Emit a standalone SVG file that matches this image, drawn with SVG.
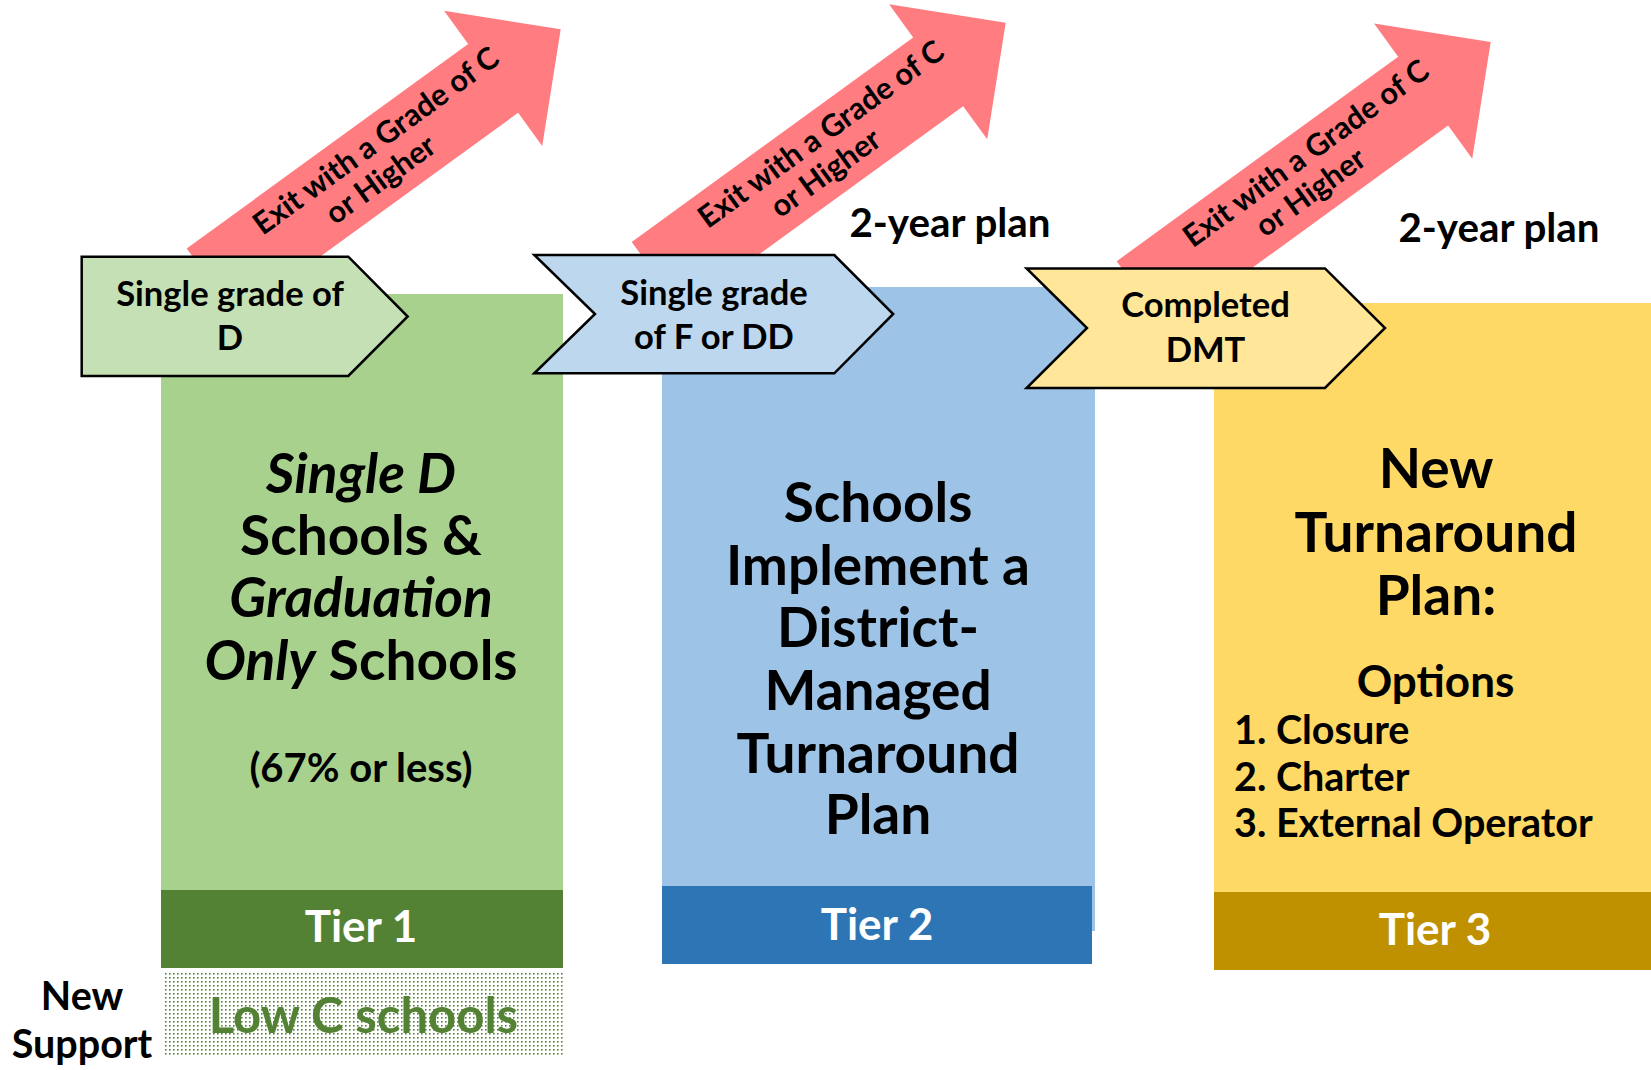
<svg xmlns="http://www.w3.org/2000/svg" width="1651" height="1070" viewBox="0 0 1651 1070">
  <style>
    text { font-family: Lato, "Liberation Sans", sans-serif; font-weight: bold; fill: #000; }
    .c { text-anchor: middle; }
    .chev { stroke: #000; stroke-width: 2.5; stroke-linejoin: miter; }
    .exit { font-size: 30.5px; text-anchor: middle; }
    .big { font-size: 55px; text-anchor: middle; }
    .chevt { font-size: 34.6px; text-anchor: middle; }
    .tier { font-size: 44px; text-anchor: middle; fill: #fff; }
    .plan { font-size: 40.3px; text-anchor: middle; }
    .it { font-style: italic; }
  </style>
  <defs>
    <polygon id="exitArrow" points="0,0 -83.5,-83.5 -83.5,-42.5 -431.4,-42.5 -431.4,42.5 -83.5,42.5 -83.5,83.5" fill="#FF7C80"/>
    <pattern id="dots" width="4" height="4" patternUnits="userSpaceOnUse">
      <rect width="4" height="4" fill="#fff"/>
      <rect x="1" y="1" width="1.6" height="1.6" fill="#548235"/>
    </pattern>
  </defs>

  <!-- Tier boxes -->
  <g id="tier1">
    <rect x="161" y="294" width="402" height="596" fill="#A9D18E"/>
    <rect x="161" y="890" width="402" height="78" fill="#548235"/>
    <text class="big it" x="361" y="493">Single D</text>
    <text class="big" x="361" y="555">Schools &amp;</text>
    <text class="big it" x="361" y="617">Graduation</text>
    <text class="big" x="361" y="680"><tspan class="it">Only</tspan> Schools</text>
    <text class="c" x="361" y="782" font-size="40">(67% or less)</text>
    <text class="tier" x="361" y="942">Tier 1</text>
  </g>
  <g id="tier2">
    <rect x="662" y="287" width="433" height="644" fill="#9DC3E6"/>
    <rect x="662" y="886" width="430" height="78" fill="#2E75B6"/>
    <text class="big" x="878" y="522">Schools</text>
    <text class="big" x="878" y="585">Implement a</text>
    <text class="big" x="878" y="647">District-</text>
    <text class="big" x="878" y="710">Managed</text>
    <text class="big" x="878" y="773">Turnaround</text>
    <text class="big" x="878" y="834">Plan</text>
    <text class="tier" x="877" y="940">Tier 2</text>
  </g>
  <g id="tier3">
    <rect x="1214" y="303" width="437" height="589" fill="#FFD966"/>
    <rect x="1214" y="892" width="437" height="78" fill="#BF9000"/>
    <text class="big" x="1436" y="488">New</text>
    <text class="big" x="1436" y="552">Turnaround</text>
    <text class="big" x="1436" y="615">Plan:</text>
    <text class="c" x="1435.5" y="697" font-size="44">Options</text>
    <text x="1234" y="744" font-size="39.5">1. Closure</text>
    <text x="1234" y="791" font-size="39.5">2. Charter</text>
    <text x="1234" y="837" font-size="39.5">3. External Operator</text>
    <text class="tier" x="1435" y="945">Tier 3</text>
  </g>
  <g id="low-c">
    <rect x="163" y="972" width="402" height="85" fill="url(#dots)"/>
    <text class="c" x="363.5" y="1033" font-size="49" style="fill:#548235">Low C schools</text>
  </g>
  <g id="new-support">
    <text class="c" x="82" y="1010" font-size="39.5">New</text>
    <text class="c" x="82" y="1058" font-size="39.5">Support</text>
  </g>

  <!-- Exit arrows -->
  <g id="exit1" transform="translate(560.7,29.3) rotate(-36)">
    <use href="#exitArrow"/>
    <text class="exit" x="-215" y="-8">Exit with a Grade of C</text>
    <text class="exit" x="-234" y="26">or Higher</text>
  </g>
  <g id="exit2" transform="translate(1005.7,22.7) rotate(-36)">
    <use href="#exitArrow"/>
    <text class="exit" x="-215" y="-8">Exit with a Grade of C</text>
    <text class="exit" x="-234" y="26">or Higher</text>
  </g>
  <g id="exit3" transform="translate(1490.7,42) rotate(-36)">
    <use href="#exitArrow"/>
    <text class="exit" x="-215" y="-8">Exit with a Grade of C</text>
    <text class="exit" x="-234" y="26">or Higher</text>
  </g>

  <!-- Chevrons -->
  <g id="chevron1">
    <polygon class="chev" fill="#C5E0B4" points="81.7,256.7 348.3,256.7 407.7,316.5 348.3,376 81.7,376"/>
    <text class="chevt" x="230" y="306">Single grade of</text>
    <text class="chevt" x="230" y="350">D</text>
  </g>
  <g id="chevron2">
    <polygon class="chev" fill="#BDD7EE" points="534.3,255 834.3,255 893.2,314 834.3,373.3 534.3,373.3 595,314"/>
    <text class="chevt" x="714" y="305">Single grade</text>
    <text class="chevt" x="714" y="349">of F or DD</text>
  </g>
  <g id="chevron3">
    <polygon class="chev" fill="#FFE699" points="1026.6,268.4 1325,268.4 1385,328 1325,388 1026.6,388 1087,328"/>
    <text class="chevt" x="1205.5" y="317">Completed</text>
    <text class="chevt" x="1205.5" y="362">DMT</text>
  </g>

  <!-- Plan labels -->
  <g id="plan-labels">
    <text class="plan" x="950" y="237">2-year plan</text>
    <text class="plan" x="1499" y="242">2-year plan</text>
  </g>
</svg>
